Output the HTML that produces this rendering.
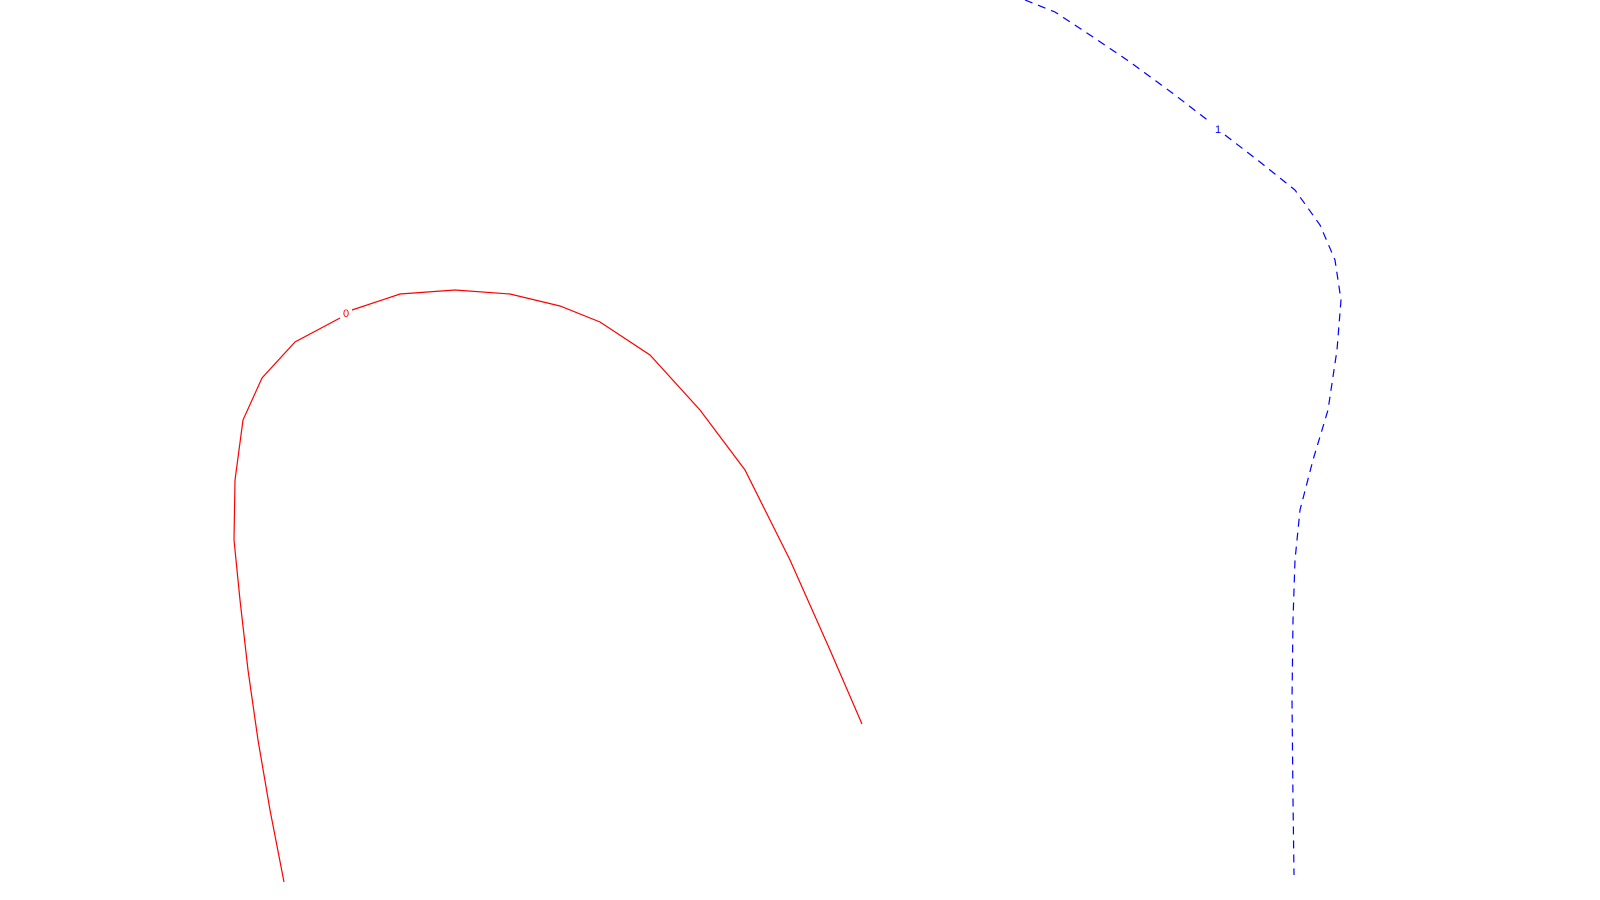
<!DOCTYPE html>
<html><head><meta charset="utf-8"><style>
html,body{margin:0;padding:0;background:#fff;width:1600px;height:900px;overflow:hidden}
svg{display:block}
text{font-family:"Liberation Sans",sans-serif;font-size:11px}
</style></head><body>
<svg id="chart" width="1600" height="900" viewBox="0 0 1600 900"></svg>
<script>
// contour level 0 (x, y in data units)
const level0X = [2.84,2.70,2.58,2.48,2.40,2.34,2.35,2.43,2.62,2.95,3.40,3.52,4.00,4.55,5.10,5.60,6.00,6.50,7.00,7.45,7.90,8.30,8.62];
const level0Y = [0.18,0.90,1.60,2.30,3.00,3.60,4.20,4.80,5.22,5.58,5.82,5.90,6.06,6.10,6.06,5.94,5.78,5.45,4.90,4.30,3.40,2.50,1.76];
// contour level 1
const level1X = [10.25,10.55,10.90,11.30,11.75,12.10,12.25,12.60,12.95,13.20,13.35,13.41,13.37,13.28,13.13,13.00,12.95,12.93,12.92,12.93,12.94];
const level1Y = [9.00,8.88,8.65,8.38,8.05,7.78,7.65,7.38,7.10,6.75,6.40,6.00,5.50,4.90,4.40,3.90,3.40,2.80,2.00,1.00,0.25];
const levelLabels = ["0","1"];
const labelPos0 = [3.46,5.87];
const labelPos1 = [12.18,7.71];

const sx = v => v*100;
const sy = v => (9 - v)*100;
const svg = document.getElementById('chart');
const NS = 'http://www.w3.org/2000/svg';
function line(xs, ys, color, dash, name, gapIdx){
  // split into two segments around label gap
  const segs = [[0,gapIdx],[gapIdx+1,xs.length-1]];
  segs.forEach((s,k)=>{
    const p = document.createElementNS(NS,'polyline');
    const pts=[];
    for(let i=s[0];i<=s[1];i++) pts.push(sx(xs[i])+','+sy(ys[i]));
    p.setAttribute('points',pts.join(' '));
    p.setAttribute('fill','none');
    p.setAttribute('stroke',color);
    p.setAttribute('stroke-width','1.2');
    if(dash) p.setAttribute('stroke-dasharray',dash);
    
    
    svg.appendChild(p);
  });
}
function label(pos, txt, color, name){
  const t = document.createElementNS(NS,'text');
  t.setAttribute('x',sx(pos[0])); t.setAttribute('y',sy(pos[1])+4);
  t.setAttribute('text-anchor','middle'); t.setAttribute('fill',color);
  t.textContent = txt;
  
  
  svg.appendChild(t);
}
line(level0X, level0Y, '#ff0000', null, 'contour-level-0', 10);
line(level1X, level1Y, '#0000ff', '8,6', 'contour-level-1', 5);
label(labelPos0, levelLabels[0], '#ff0000', 'contour-label-0');
label(labelPos1, levelLabels[1], '#0000ff', 'contour-label-1');
</script>
</body></html>
